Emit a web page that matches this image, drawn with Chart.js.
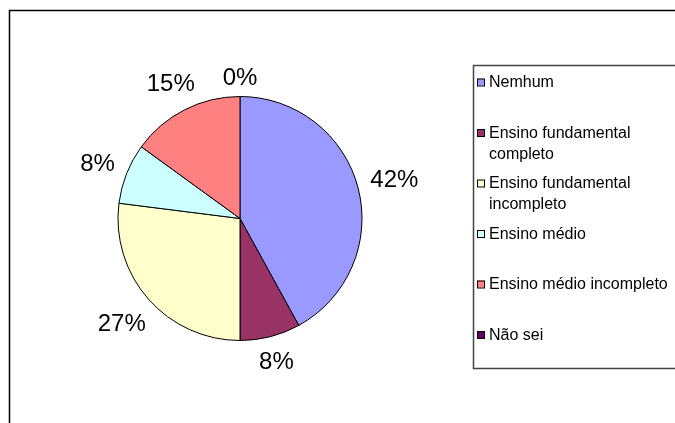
<!DOCTYPE html>
<html>
<head>
	<title>Escolaridade</title>
	<meta charset="UTF-8">
	<script src="https://cdn.jsdelivr.net/npm/chart.js@4.4.0/dist/chart.umd.min.js"></script>
	<style>
		body {
			margin: 0;
			padding: 0;
			background-color: #fff;
		}

		canvas {
			display: block;
		}
	</style>
</head>
<body>
	<canvas id="grafico" width="675" height="423"></canvas>

	<script>
		const categorias = ['Nemhum', 'Ensino fundamental completo', 'Ensino fundamental incompleto', 'Ensino médio', 'Ensino médio incompleto', 'Não sei'];
		const percentuais = [42, 8, 27, 8, 15, 0];
		const cores = ['#9999FF', '#993366', '#FFFFCC', '#CCFFFF', '#FF8080', '#660066'];

		const fonte = '"Liberation Sans", Arial, sans-serif';

		// quebra o texto da legenda em linhas que cabem na largura
		function quebrar(ctx, texto, largura) {
			const palavras = texto.split(' ');
			const linhas = [];
			let atual = '';
			palavras.forEach(p => {
				const teste = atual ? atual + ' ' + p : p;
				if (atual && ctx.measureText(teste).width > largura) {
					linhas.push(atual);
					atual = p;
				} else {
					atual = teste;
				}
			});
			linhas.push(atual);
			return linhas;
		}

		// fundo branco e moldura externa
		const moldura = {
			id: 'moldura',
			beforeDraw(chart) {
				const ctx = chart.ctx;
				ctx.save();
				ctx.fillStyle = '#fff';
				ctx.fillRect(0, 0, chart.width, chart.height);
				ctx.strokeStyle = '#000';
				ctx.lineWidth = 1.5;
				ctx.strokeRect(9.5, 10.5, 800, 600);
				ctx.restore();
			}
		};

		// porcentagens fora das fatias
		const rotulos = {
			id: 'rotulos',
			afterDatasetsDraw(chart) {
				const ctx = chart.ctx;
				const meta = chart.getDatasetMeta(0);
				const tam = 24;
				ctx.save();
				ctx.font = tam + 'px ' + fonte;
				ctx.fillStyle = '#000';
				ctx.textAlign = 'center';
				ctx.textBaseline = 'alphabetic';
				meta.data.forEach((arco, i) => {
					const p = arco.getProps(['x', 'y', 'startAngle', 'endAngle', 'outerRadius']);
					const meio = (p.startAngle + p.endAngle) / 2;
					const ux = Math.cos(meio);
					const uy = Math.sin(meio);
					const texto = chart.data.datasets[0].data[i] + '%';
					const w = ctx.measureText(texto).width;
					const h = tam * 0.716;
					const d = p.outerRadius + 12 + Math.abs(ux) * w / 2 + Math.abs(uy) * h / 2;
					ctx.fillText(texto, p.x + ux * d, p.y + uy * d + h / 2);
				});
				ctx.restore();
			}
		};

		// legenda com caixa à direita
		const legenda = {
			id: 'legenda',
			afterDraw(chart) {
				const ctx = chart.ctx;
				const ds = chart.data.datasets[0];
				ctx.save();
				ctx.strokeStyle = '#444';
				ctx.lineWidth = 1.5;
				ctx.strokeRect(473.5, 65.5, 400, 303);
				ctx.font = '16px ' + fonte;
				ctx.textBaseline = 'middle';
				chart.data.labels.forEach((nome, i) => {
					const y = 82 + i * 50.5;
					ctx.fillStyle = ds.backgroundColor[i];
					ctx.fillRect(477, y - 3.5, 7, 7);
					ctx.strokeStyle = '#000';
					ctx.lineWidth = 1;
					ctx.strokeRect(477.5, y - 3, 7, 7);
					ctx.fillStyle = '#000';
					quebrar(ctx, nome, 182).forEach((linha, j) => {
						ctx.fillText(linha, 489, y + 1 + j * 21);
					});
				});
				ctx.restore();
			}
		};

		new Chart(document.getElementById('grafico'), {
			type: 'pie',
			data: {
				labels: categorias,
				datasets: [{
					data: percentuais,
					backgroundColor: cores,
					borderColor: '#000',
					borderWidth: 1,
					radius: 122
				}]
			},
			options: {
				responsive: false,
				animation: false,
				layout: {
					padding: { left: 118, right: 313, top: 96, bottom: 82 }
				},
				plugins: {
					legend: { display: false },
					tooltip: { enabled: false }
				}
			},
			plugins: [moldura, rotulos, legenda]
		});
	</script>
</body>
</html>
